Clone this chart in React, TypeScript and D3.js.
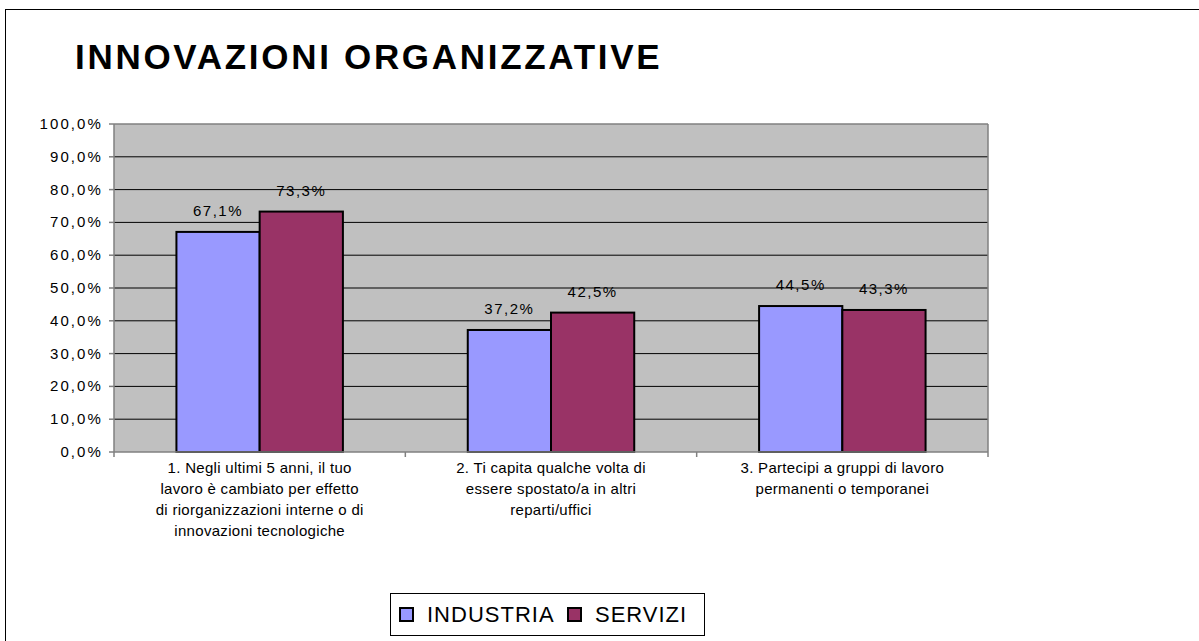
import React from "react";
import * as d3 from "d3";

const categories: string[][] = [
  ["1. Negli ultimi 5 anni, il tuo", "lavoro è cambiato per effetto", "di riorganizzazioni interne o di", "innovazioni tecnologiche"],
  ["2. Ti capita qualche volta di", "essere spostato/a in altri", "reparti/uffici"],
  ["3. Partecipi a gruppi di lavoro", "permanenti o temporanei"],
];
const seriesNames = ["INDUSTRIA", "SERVIZI"];
const industria = [67.1, 37.2, 44.5];
const servizi = [73.3, 42.5, 43.3];
const yTicks = [0, 10, 20, 30, 40, 50, 60, 70, 80, 90, 100];
const colors = ["#9999FF", "#993366"];

const W = 1199;
const H = 641;
const plot = { left: 114, right: 988, top: 124, bottom: 452 };
const FONT = "'Liberation Sans', Arial, sans-serif";

const fmt = (v: number) => v.toFixed(1).replace(".", ",") + "%";

export default function App() {
  const y = d3.scaleLinear().domain([0, 100]).range([plot.bottom, plot.top]);
  const x0 = d3
    .scaleBand<number>()
    .domain(categories.map((_, i) => i))
    .range([plot.left, plot.right])
    .paddingInner(0)
    .paddingOuter(0);
  const bw = x0.bandwidth();
  const barW = bw / 3.5;
  const x1 = d3
    .scaleBand<number>()
    .domain([0, 1])
    .range([bw / 2 - barW, bw / 2 + barW])
    .padding(0);
  const series = [industria, servizi];
  const boundaries = [...categories.map((_, i) => x0(i)!), plot.right];

  return (
    <svg
      width={W}
      height={H}
      style={{ position: "absolute", left: 0, top: 0, background: "#fff" }}
      fontFamily={FONT}
    >
      <rect x={5.5} y={9.5} width={W + 20} height={H + 20} fill="#fff" stroke="#000" strokeWidth={1} />
      <text x={75} y={69} fontSize={35} fontWeight="bold" letterSpacing={2.7} fill="#000">
        INNOVAZIONI ORGANIZZATIVE
      </text>

      {/* plot area */}
      <rect
        x={plot.left}
        y={plot.top}
        width={plot.right - plot.left}
        height={plot.bottom - plot.top}
        fill="#C0C0C0"
      />
      {yTicks
        .filter((t) => t > 0 && t < 100)
        .map((t) => (
          <line key={t} x1={plot.left} x2={plot.right} y1={y(t)} y2={y(t)} stroke="#000" strokeWidth={1} />
        ))}
      <line x1={plot.left} x2={plot.right} y1={plot.top} y2={plot.top} stroke="#808080" strokeWidth={1.5} />
      <line x1={plot.right} x2={plot.right} y1={plot.top} y2={plot.bottom} stroke="#808080" strokeWidth={1.5} />

      {/* bars */}
      {series.map((vals, s) =>
        vals.map((v, i) => {
          const bx = x0(i)! + x1(s)!;
          return (
            <g key={`${s}-${i}`}>
              <rect
                x={bx}
                y={y(v)}
                width={x1.bandwidth()}
                height={plot.bottom - y(v)}
                fill={colors[s]}
                stroke="#000"
                strokeWidth={2}
              />
              <text
                x={bx + x1.bandwidth() / 2}
                y={y(v) - 16}
                fontSize={15}
                letterSpacing={1.5}
                textAnchor="middle"
                fill="#000"
              >
                {fmt(v)}
              </text>
            </g>
          );
        })
      )}

      {/* y axis */}
      <line x1={plot.left} x2={plot.left} y1={plot.top} y2={plot.bottom} stroke="#808080" strokeWidth={1.5} />
      {yTicks.map((t) => (
        <g key={t}>
          <line x1={plot.left - 5} x2={plot.left} y1={y(t)} y2={y(t)} stroke="#808080" strokeWidth={1.5} />
          <text x={103} y={y(t) + 5} fontSize={15} letterSpacing={2.1} textAnchor="end" fill="#000">
            {fmt(t)}
          </text>
        </g>
      ))}

      {/* x axis */}
      <line x1={plot.left} x2={plot.right} y1={plot.bottom} y2={plot.bottom} stroke="#808080" strokeWidth={1.5} />
      {boundaries.map((b, i) => (
        <line key={i} x1={b} x2={b} y1={plot.bottom} y2={plot.bottom + 5} stroke="#808080" strokeWidth={1.5} />
      ))}
      {categories.map((lines, i) => (
        <text key={i} fontSize={15} letterSpacing={0.3} textAnchor="middle" fill="#000">
          {lines.map((l, j) => (
            <tspan key={j} x={x0(i)! + bw / 2} y={473 + j * 21}>
              {l}
            </tspan>
          ))}
        </text>
      ))}

      {/* legend */}
      <rect x={390.5} y={593.5} width={314} height={42} fill="#fff" stroke="#000" strokeWidth={1} />
      {seriesNames.map((n, i) => {
        const lx = i === 0 ? 400 : 568;
        return (
          <g key={n}>
            <rect x={lx} y={608} width={13} height={13} fill={colors[i]} stroke="#000" strokeWidth={2} />
            <text x={lx + 27} y={622} fontSize={22} letterSpacing={1} fill="#000">
              {n}
            </text>
          </g>
        );
      })}
    </svg>
  );
}
